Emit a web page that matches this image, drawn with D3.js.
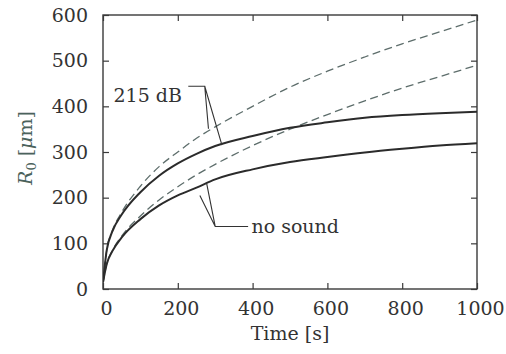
<!DOCTYPE html>
<html><head><meta charset="utf-8">
<script src="https://cdn.jsdelivr.net/npm/d3@7"></script>
<style>
html,body{margin:0;padding:0;background:#fff;}
svg{display:block;}
text{font-family:"DejaVu Serif",serif;}
</style></head>
<body>
<script>
// Data
const times = [0, 10, 25, 50, 100, 150, 200, 250, 300, 400, 500, 600, 700, 800, 900, 1000];
const dashed215 = [15, 85, 128, 168, 225, 268, 300, 330, 355, 400, 442, 477, 508, 537, 563, 589];
const solid215  = [15, 85, 126, 163, 212, 248, 275, 296, 313, 335, 353, 365, 375, 381, 385, 388];
const dashedNoSound = [15, 55, 84, 116, 160, 195, 224, 250, 273, 314, 350, 382, 412, 440, 465, 490];
const solidNoSound  = [15, 55, 83, 113, 153, 183, 205, 222, 240, 262, 278, 289, 299, 307, 314, 319];
const xTicks = [0, 200, 400, 600, 800, 1000];
const yTicks = [0, 100, 200, 300, 400, 500, 600];

const W = 506, H = 354;
const m = {left: 103, right: 29, top: 15, bottom: 65};
const svg = d3.select("body").append("svg").attr("width", W).attr("height", H);

const x = d3.scaleLinear().domain([0, 1000]).range([m.left, W - m.right]);
const y = d3.scaleLinear().domain([0, 600]).range([H - m.bottom, m.top]);

const axisColor = "#3a3a3a";
const textColor = "#333";
const fs = 19;

// frame
svg.append("rect").attr("x", x(0)).attr("y", y(600))
  .attr("width", x(1000) - x(0)).attr("height", y(0) - y(600))
  .attr("fill", "none").attr("stroke", axisColor).attr("stroke-width", 1.4);

function styleAxis(g, showText) {
  g.select(".domain").remove();
  g.selectAll(".tick line").attr("stroke", axisColor).attr("stroke-width", 1.2);
  g.selectAll(".tick text").attr("fill", textColor).style("font-size", fs + "px")
    .style("font-family", '"DejaVu Serif", serif');
  if (!showText) g.selectAll(".tick text").remove();
}

svg.append("g").attr("transform", `translate(0,${y(0)})`)
  .call(d3.axisBottom(x).tickValues(xTicks).tickSize(-6).tickPadding(13).tickFormat(d3.format("d")))
  .call(g => styleAxis(g, true))
  .call(g => g.selectAll(".tick text").attr("dx", 3));
svg.append("g").attr("transform", `translate(0,${y(600)})`)
  .call(d3.axisTop(x).tickValues(xTicks).tickSize(-6).tickFormat(""))
  .call(g => styleAxis(g, false));
svg.append("g").attr("transform", `translate(${x(0)},0)`)
  .call(d3.axisLeft(y).tickValues(yTicks).tickSize(-6).tickPadding(15).tickFormat(d3.format("d")))
  .call(g => styleAxis(g, true));
svg.append("g").attr("transform", `translate(${x(1000)},0)`)
  .call(d3.axisRight(y).tickValues(yTicks).tickSize(-6).tickFormat(""))
  .call(g => styleAxis(g, false));

// lines
const line = d3.line().x((d, i) => x(times[i])).y(d => y(d)).curve(d3.curveMonotoneX);
svg.append("clipPath").attr("id", "clip").append("rect")
  .attr("x", x(0)).attr("y", y(600)).attr("width", x(1000) - x(0)).attr("height", y(0) - y(600));
const gl = svg.append("g").attr("clip-path", "url(#clip)");
[dashed215, dashedNoSound].forEach(s => {
  gl.append("path").datum(s).attr("d", line).attr("fill", "none")
    .attr("stroke", "#5d6d6b").attr("stroke-width", 1.3).attr("stroke-dasharray", "8,4.5");
});
[solid215, solidNoSound].forEach(s => {
  gl.append("path").datum(s).attr("d", line).attr("fill", "none")
    .attr("stroke", "#2b2b2b").attr("stroke-width", 2);
});

// annotations
const lead = svg.append("g").attr("stroke", "#333").attr("stroke-width", 1.1).attr("fill", "none");
svg.append("text").attr("x", x(28)).attr("y", y(425)).attr("dy", "0.35em")
  .attr("fill", textColor).style("font-size", fs + "px").text("215 dB");
lead.append("path").attr("d", `M${x(228)},${y(444)} H${x(272)} L${x(282)},${y(351)} M${x(272)},${y(444)} L${x(318)},${y(315)}`);
svg.append("text").attr("x", x(397)).attr("y", y(137)).attr("dy", "0.35em")
  .attr("fill", textColor).style("font-size", fs + "px").text("no sound");
lead.append("path").attr("d", `M${x(388)},${y(137)} H${x(300)} L${x(259)},${y(205)} M${x(300)},${y(137)} L${x(277)},${y(232)}`);

// axis titles
svg.append("text").attr("x", (x(0) + x(1000)) / 2).attr("y", 340).attr("text-anchor", "middle")
  .attr("fill", textColor).style("font-size", fs + "px").text("Time [s]");
const yl = svg.append("text").attr("transform", `translate(32,${(y(0) + y(600)) / 2 - 4}) rotate(-90)`)
  .attr("text-anchor", "middle").attr("fill", "#4b625c").style("font-size", fs + "px");
yl.append("tspan").style("font-style", "italic").text("R");
yl.append("tspan").attr("dy", 4).style("font-size", "13px").text("0");
yl.append("tspan").attr("dy", -4).text(" [");
yl.append("tspan").style("font-style", "italic").text("μ");
yl.append("tspan").text("m]");
</script>
</body></html>
